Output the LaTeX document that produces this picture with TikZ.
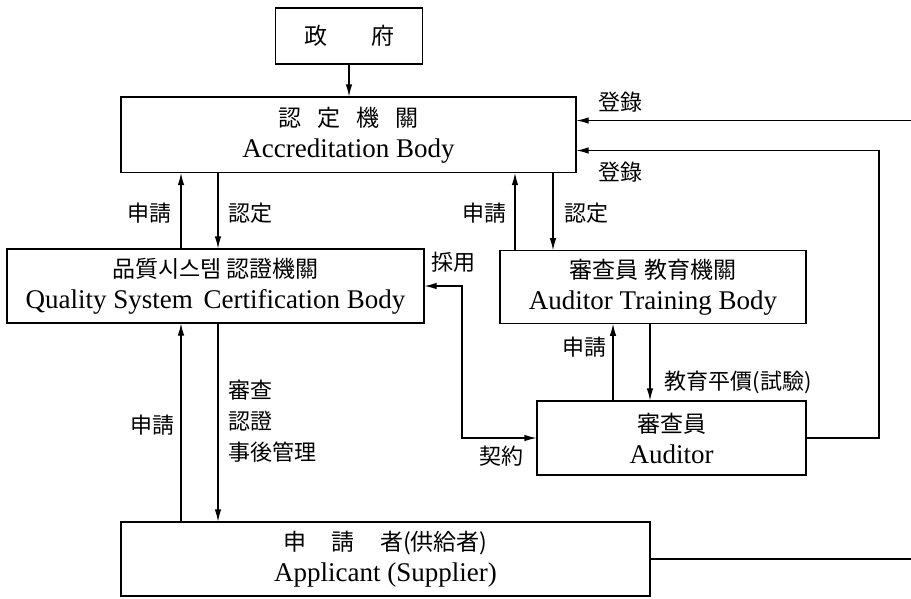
\documentclass[tikz,border=0pt]{standalone}
\usepackage{fontspec}
\setmainfont{Liberation Serif}
\newfontfamily\kr{Noto Sans CJK KR}
\usetikzlibrary{arrows.meta}
\newcommand{\krbox}{\kr\fontsize{23}{31}\selectfont}
\tikzset{
	box/.style={draw, line width=1.1pt, inner sep=0pt, align=center, font=\fontsize{27}{31}\selectfont},
	lbl/.style={inner sep=0pt, font=\kr\fontsize{22}{31}\selectfont},
	arr/.style={line width=1.1pt, -{Latex[length=12pt,width=6.5pt]}},
	both/.style={line width=1.1pt, {Latex[length=12pt,width=6.5pt]}-{Latex[length=12pt,width=6.5pt]}},
	wire/.style={line width=1.1pt}
}
\begin{document}
\begin{tikzpicture}[x=1pt,y=-1pt]
	\useasboundingbox (0,0) rectangle (911,598);
	\node (gov) [box, minimum width=147pt, minimum height=56pt] at (349,36) {{\krbox 政\hspace{44pt}府}};
	\node (accr) [box, minimum width=455pt, minimum height=75.5pt] at (348.5,134.75) {{\krbox 認\hspace{0.7em}定\hspace{0.7em}機\hspace{0.7em}關}\\Accreditation Body};
	\node (qscb) [box, minimum width=417pt, minimum height=74pt] at (215.5,286) {{\krbox 品質시스템 認證機關}\\Quality System\hspace{0.15em} Certification Body};
	\node (atb) [box, minimum width=306pt, minimum height=72.5pt] at (653,287) {{\krbox 審查員 教育機關}\\Auditor Training Body};
	\node (aud) [box, minimum width=269pt, minimum height=74pt] at (671.5,438) {{\krbox 審查員}\\Auditor};
	\node (appl) [box, minimum width=529pt, minimum height=74pt] at (385.5,559) {{\krbox 申\hspace{1.1em}請\hspace{1.1em}者(供給者)}\\Applicant (Supplier)};
	\coordinate (edgeT) at (911,120.5);
	\coordinate (edgeB) at (911,559);
	\coordinate (turnR) at (879,150.5);
	% connectors
	\draw [arr] (gov.south) -- (accr.north -| gov.south);
	\draw [arr] (qscb.north -| 181,0) -- (accr.south -| 181,0);
	\draw [arr] (accr.south -| 218,0) -- (qscb.north -| 218,0);
	\draw [arr] (atb.north -| 515,0) -- (accr.south -| 515,0);
	\draw [arr] (accr.south -| 553,0) -- (atb.north -| 553,0);
	\draw [arr] (edgeT) -- (accr.east |- edgeT);
	\draw [arr] (aud.east) -| (turnR) -- (accr.east |- turnR);
	\draw [both] (qscb.east) -| (462,0 |- aud.west) -- (aud.west);
	\draw [arr] (aud.north -| 613,0) -- (atb.south -| 613,0);
	\draw [arr] (atb.south -| 650,0) -- (aud.north -| 650,0);
	\draw [arr] (appl.north -| 181,0) -- (qscb.south -| 181,0);
	\draw [arr] (qscb.south -| 218,0) -- (appl.north -| 218,0);
	\draw [wire] (appl.east) -- (edgeB);
	% labels
	\node (lblApA) [lbl] at (149,213) {申請};
	\node (lblAcA) [lbl] at (250,213) {認定};
	\node (lblApB) [lbl] at (484,213) {申請};
	\node (lblAcB) [lbl] at (586,213) {認定};
	\node (lblRgA) [lbl] at (620,102) {登錄};
	\node (lblRgB) [lbl] at (620,172) {登錄};
	\node (lblAdopt) [lbl] at (453,262) {採用};
	\node (lblContr) [lbl] at (501,456) {契約};
	\node (lblApC) [lbl] at (584,347) {申請};
	\node (lblEdu) [lbl] at (738,382) {教育平價(試驗)};
	\node (lblApD) [lbl] at (152,425) {申請};
	\node (lblAudit) [lbl, align=left, anchor=west] at (228,421) {審查\\認證\\事後管理};
\end{tikzpicture}
\end{document}
